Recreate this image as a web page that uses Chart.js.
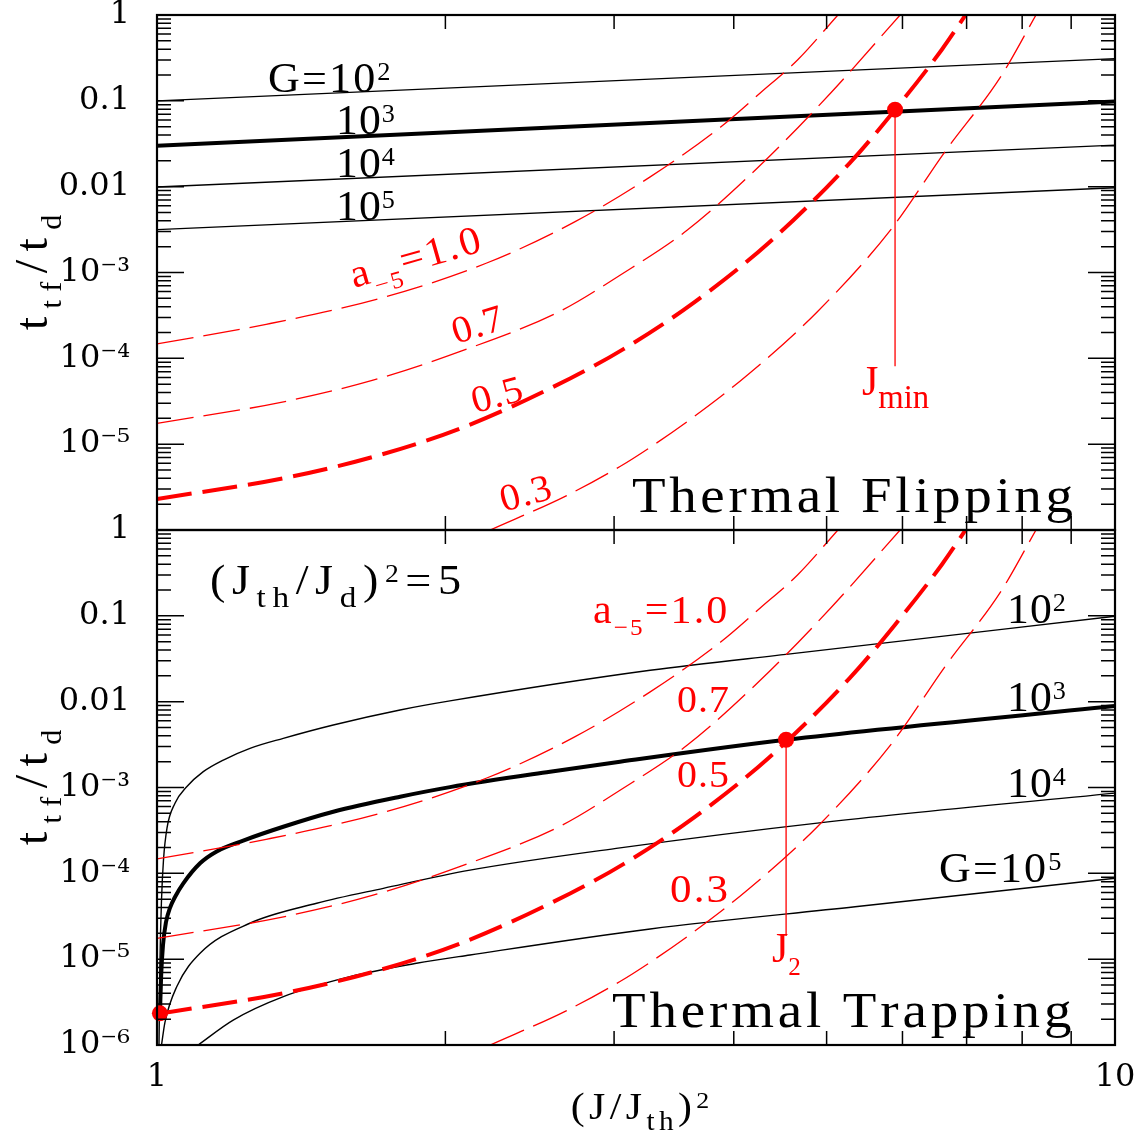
<!DOCTYPE html>
<html>
<head>
<meta charset="utf-8">
<script src="https://cdn.jsdelivr.net/npm/chart.js@4.4.1/dist/chart.umd.min.js"></script>
<style>
  body { margin: 0; background: #fff; }
  #wrap { position: relative; width: 1146px; height: 1136px; }
  canvas { position: absolute; left: 0; top: 0; }
</style>
</head>
<body>
<div id="wrap">
  <canvas id="flip" width="1146" height="1136"></canvas>
  <canvas id="trap" width="1146" height="1136"></canvas>
</div>
<script>
const FONT = "'Liberation Serif', 'DejaVu Serif', serif"
const TICK_FONT = "'DejaVu Serif', serif"
const RED = '#ff0000'

// a_-5 curves (same in both panels)
const a10X = [1, 1.30, 1.722, 2.209, 2.732, 3.272, 3.876, 4.268, 4.665, 5.138]
const a10Y = [1.47e-4, 2.49e-4, 5.11e-4, 1.29e-3, 3.91e-3, 1.30e-2, 4.96e-2, 0.125, 0.301, 1]
const a07X = [1, 1.343, 1.681, 2.080, 2.635, 3.043, 3.575, 4.268, 5.055, 5.966]
const a07Y = [1.75e-5, 3.05e-5, 5.57e-5, 1.22e-4, 3.54e-4, 9.3e-4, 3.10e-3, 1.80e-2, 0.125, 1]
const a05X = [1, 1.354, 1.695, 2.097, 2.699, 3.068, 3.634, 4.355, 5.285, 5.894, 6.597, 6.982]
const a05Y = [2.30e-6, 4.00e-6, 7.29e-6, 1.60e-5, 5.83e-5, 1.28e-4, 4.46e-4, 2.24e-3, 1.88e-2, 7.88e-2, 0.397, 1]
const a03X = [2.227, 2.677, 3.043, 3.272, 3.620, 4.134, 4.896, 5.846, 6.652, 7.596, 8.270]
const a03Y = [1e-6, 2.52e-6, 5.5e-6, 9.2e-6, 2.02e-5, 6.39e-5, 3.54e-4, 3.25e-3, 2.60e-2, 0.190, 1]

// thermal flipping, G = 1e2 .. 1e5
const flipX = [1, 10]
const flipG2 = [0.100, 0.310]
const flipG3 = [0.0300, 0.0980]
const flipG4 = [0.0099, 0.0305]
const flipG5 = [0.00316, 0.0097]

// thermal trapping, G = 1e2 .. 1e5
const trapG2X = [1.0048, 1.0072, 1.0109, 1.0157, 1.0243, 1.0442, 1.074, 1.1177, 1.1728, 1.2505, 1.3546, 1.5276, 1.7935, 2.022, 3.272, 4.63, 10]
const trapG2Y = [1e-6, 9.77e-6, 4.89e-5, 1.43e-4, 3.37e-4, 6.55e-4, 1.02e-3, 1.53e-3, 2.09e-3, 2.86e-3, 3.74e-3, 5.35e-3, 8.0e-3, 1.02e-2, 2.32e-2, 3.65e-2, 0.099]
const trapG3X = [1.0072, 1.0101, 1.0145, 1.0219, 1.0317, 1.0442, 1.0653, 1.109, 1.1543, 1.2303, 1.3546, 1.5276, 1.7935, 2.022, 2.572, 3.043, 4.536, 10]
const trapG3Y = [2.34e-6, 6.54e-6, 1.46e-5, 2.71e-5, 3.95e-5, 5.30e-5, 7.65e-5, 1.31e-4, 1.80e-4, 2.41e-4, 3.49e-4, 5.22e-4, 7.81e-4, 1.01e-3, 1.53e-3, 2.00e-3, 3.60e-3, 8.9e-3]
const trapG4X = [1.0109, 1.0194, 1.0485, 1.109, 1.250, 1.468, 1.723, 2.122, 3.043, 4.94, 10]
const trapG4Y = [1e-6, 1.85e-6, 4.78e-6, 1.17e-5, 2.62e-5, 4.48e-5, 6.69e-5, 1.09e-4, 1.98e-4, 3.9e-4, 8.6e-4]
const trapG5X = [1.104, 1.201, 1.355, 1.590, 1.866, 2.122, 3.272, 5.354, 10]
const trapG5Y = [1e-6, 1.95e-6, 3.66e-6, 6.25e-6, 8.95e-6, 1.12e-5, 2.25e-5, 4.08e-5, 8.75e-5]

// marked points (J_min, J_2) and their drop lines
const flipDotX = [5.894]
const flipDotY = [0.0788]
const flipMarkY = [0.0788, 8.1e-5]
const trapDotX = [4.536, 1.007]
const trapDotY = [3.6e-3, 2.34e-6]
const trapMarkY = [3.6e-3, 1.86e-5]

// tick labels
const yTickLabels = ['1', '0.1', '0.01', '10⁻³', '10⁻⁴', '10⁻⁵', '10⁻⁶']
const xTickValues = [1, 10]
const xTickLabels = ['1', '10']

function pts(xs, ys) {
  return xs.map((x, i) => ({ x: x, y: ys[i] }))
}

function curve(xs, ys, color, width, dash, smooth) {
  return {
    data: pts(xs, ys),
    borderColor: color,
    borderWidth: width,
    borderDash: dash || [],
    borderCapStyle: 'butt',
    pointRadius: 0,
    fill: false,
    cubicInterpolationMode: smooth === false ? 'default' : 'monotone',
    tension: 0,
  }
}

function dots(xs, ys) {
  return {
    data: pts(xs, ys),
    showLine: false,
    pointRadius: 8,
    pointBackgroundColor: RED,
    pointBorderColor: RED,
    pointBorderWidth: 0,
    clip: false,
  }
}

function redCurves() {
  return [
    curve(a10X, a10Y, RED, 1.3, [37, 10]),
    curve(a07X, a07Y, RED, 1.3, [37, 10]),
    curve(a05X, a05Y, RED, 4, [35, 11]),
    curve(a03X, a03Y, RED, 1.3, [37, 10]),
  ]
}

function decadeIndex(v) {
  const e = Math.log10(v)
  const r = Math.round(e)
  return Math.abs(e - r) < 1e-6 ? -r : -1
}

function yAxis(skipBottom) {
  return {
    type: 'logarithmic',
    min: 1e-6,
    max: 1,
    grid: { display: false, drawTicks: false },
    border: { display: false },
    ticks: {
      autoSkip: false,
      padding: 27,
      color: '#000',
      font: { family: TICK_FONT, size: 32 },
      callback: (v) => {
        const i = decadeIndex(v)
        if (i < 0 || (skipBottom && i === 6)) return ''
        return yTickLabels[i]
      },
    },
    afterFit: (s) => {
      s.width = 157
      s.paddingTop = 0
      s.paddingBottom = 0
    },
  }
}

// text with sub/superscripts: parts are strings or [text, 'sub'|'sup', sizeRatio]
function partInfo(p, size) {
  const [t, k, r] = Array.isArray(p) ? p : [p, 'n']
  const s = k === 'n' ? size : size * (r || 0.6)
  const dy = k === 'sub' ? size * 0.3 : k === 'sup' ? -size * 0.28 : 0
  return { t, s, dy }
}

function richWidth(ctx, parts, o) {
  let w = 0
  for (const p of parts) {
    const { t, s } = partInfo(p, o.size)
    ctx.font = s + 'px ' + FONT
    for (const ch of t) w += ctx.measureText(ch).width + (o.ls || 0)
  }
  return w - (o.ls || 0)
}

function drawRich(ctx, parts, px, py, o) {
  ctx.save()
  ctx.translate(px, py)
  if (o.rot) ctx.rotate((o.rot * Math.PI) / 180)
  ctx.scale(o.sx || 1, 1)
  ctx.fillStyle = o.color || '#000'
  ctx.textBaseline = 'alphabetic'
  ctx.textAlign = 'left'
  let cx = o.align === 'center' ? -richWidth(ctx, parts, o) / 2 : 0
  for (const p of parts) {
    const { t, s, dy } = partInfo(p, o.size)
    ctx.font = s + 'px ' + FONT
    for (const ch of t) {
      ctx.fillText(ch, cx, dy)
      cx += ctx.measureText(ch).width + (o.ls || 0)
    }
  }
  ctx.restore()
}

const yTitle = ['t', ['tf', 'sub', 0.62], '/', 't', ['d', 'sub', 0.62]]
const xTitle = ['(J/J', ['th', 'sub', 0.7], ')', ['2', 'sup', 0.62]]

const framePlugin = {
  id: 'frame',
  afterDatasetsDraw(chart) {
    const { ctx, chartArea: a } = chart
    const xs = chart.scales.x
    const ys = chart.scales.y
    ctx.save()
    ctx.strokeStyle = '#000'
    ctx.lineWidth = 1.5
    ctx.beginPath()
    for (let e = -6; e <= 0; e++) {
      for (let m = 1; m <= 9; m++) {
        const v = m * Math.pow(10, e)
        if (v > 1.000001) break
        const py = ys.getPixelForValue(v)
        const len = m === 1 ? 27 : 14
        ctx.moveTo(a.left, py)
        ctx.lineTo(a.left + len, py)
        ctx.moveTo(a.right - len, py)
        ctx.lineTo(a.right, py)
      }
    }
    for (let m = 2; m <= 9; m++) {
      const px = xs.getPixelForValue(m)
      ctx.moveTo(px, a.top)
      ctx.lineTo(px, a.top + 14)
      ctx.moveTo(px, a.bottom)
      ctx.lineTo(px, a.bottom - 14)
    }
    ctx.stroke()
    ctx.lineWidth = 2.2
    ctx.strokeRect(a.left, a.top, a.right - a.left, a.bottom - a.top)
    ctx.restore()
  },
}

function notesPlugin(items, extra) {
  return {
    id: 'notes',
    afterDraw(chart) {
      const { ctx, chartArea: a } = chart
      const xs = chart.scales.x
      const ys = chart.scales.y
      for (const it of items) {
        drawRich(ctx, it.parts, xs.getPixelForValue(it.x), ys.getPixelForValue(it.y), it)
      }
      drawRich(ctx, yTitle, 47, (a.top + a.bottom) / 2, { size: 46, sx: 1.05, ls: 8, rot: -90, align: 'center' })
      if (extra) extra(chart)
    },
  }
}

const flipNotes = [
  { parts: ['G=10', ['2', 'sup']], x: 1.306, y: 0.1267, size: 42, sx: 1.05, ls: 2 },
  { parts: ['10', ['3', 'sup']], x: 1.538, y: 0.0411, size: 42, sx: 1.04, ls: 1 },
  { parts: ['10', ['4', 'sup']], x: 1.538, y: 0.01296, size: 42, sx: 1.04, ls: 1 },
  { parts: ['10', ['5', 'sup']], x: 1.538, y: 0.00409, size: 42, sx: 1.04, ls: 1 },
  { parts: ['a', ['−5', 'sub', 0.6], '=1.0'], x: 1.606, y: 6.59e-4, size: 40, sx: 1.05, ls: 2, rot: -16, color: RED },
  { parts: ['0.7'], x: 2.052, y: 1.47e-4, size: 38, sx: 1.05, ls: 1, rot: -17, color: RED },
  { parts: ['0.5'], x: 2.147, y: 2.29e-5, size: 38, sx: 1.05, ls: 1, rot: -15, color: RED },
  { parts: ['0.3'], x: 2.30, y: 1.63e-6, size: 38, sx: 1.05, ls: 1, rot: -15, color: RED },
  { parts: ['J', ['min', 'sub', 0.78]], x: 5.443, y: 3.74e-5, size: 42, color: RED },
  { parts: ['Thermal Flipping'], x: 3.132, y: 1.62e-6, size: 50, sx: 1.1, ls: 3.3 },
]

const trapNotes = [
  { parts: ['(J', ['th', 'sub', 0.72], '/J', ['d', 'sub', 0.72], ')', ['2', 'sup'], '=5'], x: 1.136, y: 0.1796, size: 42, sx: 1.1, ls: 6 },
  { parts: ['a', ['−5', 'sub', 0.6], '=1.0'], x: 2.852, y: 0.0825, size: 40, sx: 1.05, ls: 2, color: RED },
  { parts: ['0.7'], x: 3.49, y: 7.58e-3, size: 38, sx: 1.05, ls: 1, color: RED },
  { parts: ['0.5'], x: 3.49, y: 1.01e-3, size: 38, sx: 1.05, ls: 1, color: RED },
  { parts: ['0.3'], x: 3.432, y: 4.63e-5, size: 41, sx: 1.05, ls: 2, color: RED },
  { parts: ['10', ['2', 'sup']], x: 7.714, y: 0.0825, size: 42, sx: 1.04, ls: 1 },
  { parts: ['10', ['3', 'sup']], x: 7.714, y: 7.78e-3, size: 42, sx: 1.04, ls: 1 },
  { parts: ['10', ['4', 'sup']], x: 7.714, y: 7.75e-4, size: 42, sx: 1.04, ls: 1 },
  { parts: ['G=10', ['5', 'sup']], x: 6.551, y: 7.92e-5, size: 42, sx: 1.05, ls: 2 },
  { parts: ['J', ['2', 'sub', 0.6]], x: 4.385, y: 9.27e-6, size: 42, color: RED },
  { parts: ['Thermal Trapping'], x: 2.985, y: 1.62e-6, size: 50, sx: 1.1, ls: 3.5 },
]

const common = {
  responsive: false,
  maintainAspectRatio: false,
  animation: false,
  events: [],
  plugins: { legend: { display: false }, tooltip: { enabled: false } },
}

new Chart(document.getElementById('flip').getContext('2d'), {
  type: 'line',
  data: {
    datasets: [
      dots(flipDotX, flipDotY),
      curve([flipDotX[0], flipDotX[0]], flipMarkY, RED, 1.3, [], false),
      ...redCurves(),
      curve(flipX, flipG2, '#000', 1.4, [], false),
      curve(flipX, flipG3, '#000', 4, [], false),
      curve(flipX, flipG4, '#000', 1.4, [], false),
      curve(flipX, flipG5, '#000', 1.4, [], false),
    ],
  },
  options: {
    ...common,
    layout: { padding: { left: 0, top: 15, right: 31, bottom: 606 } },
    scales: {
      x: { type: 'logarithmic', min: 1, max: 10, display: false },
      y: yAxis(true),
    },
  },
  plugins: [framePlugin, notesPlugin(flipNotes)],
})

new Chart(document.getElementById('trap').getContext('2d'), {
  type: 'line',
  data: {
    datasets: [
      dots(trapDotX, trapDotY),
      curve([trapDotX[0], trapDotX[0]], trapMarkY, RED, 1.3, [], false),
      ...redCurves(),
      curve(trapG2X, trapG2Y, '#000', 1.4),
      curve(trapG3X, trapG3Y, '#000', 4),
      curve(trapG4X, trapG4Y, '#000', 1.4),
      curve(trapG5X, trapG5Y, '#000', 1.4),
    ],
  },
  options: {
    ...common,
    layout: { padding: { left: 0, top: 530, right: 31, bottom: 0 } },
    scales: {
      x: {
        type: 'logarithmic',
        min: 1,
        max: 10,
        grid: { display: false, drawTicks: false },
        border: { display: false },
        ticks: {
          autoSkip: false,
          maxRotation: 0,
          padding: 13,
          color: '#000',
          font: { family: TICK_FONT, size: 32 },
          callback: (v) => {
            const i = xTickValues.findIndex((t) => Math.abs(t - v) < 1e-6)
            return i < 0 ? '' : xTickLabels[i]
          },
        },
        afterFit: (s) => {
          s.height = 91
          s.paddingLeft = 0
          s.paddingRight = 0
        },
      },
      y: yAxis(false),
    },
  },
  plugins: [framePlugin, notesPlugin(trapNotes, (chart) => {
    const a = chart.chartArea
    drawRich(chart.ctx, xTitle, 640, a.bottom + 74, { size: 38, sx: 1.1, ls: 4, align: 'center' })
  })],
})
</script>
</body>
</html>
